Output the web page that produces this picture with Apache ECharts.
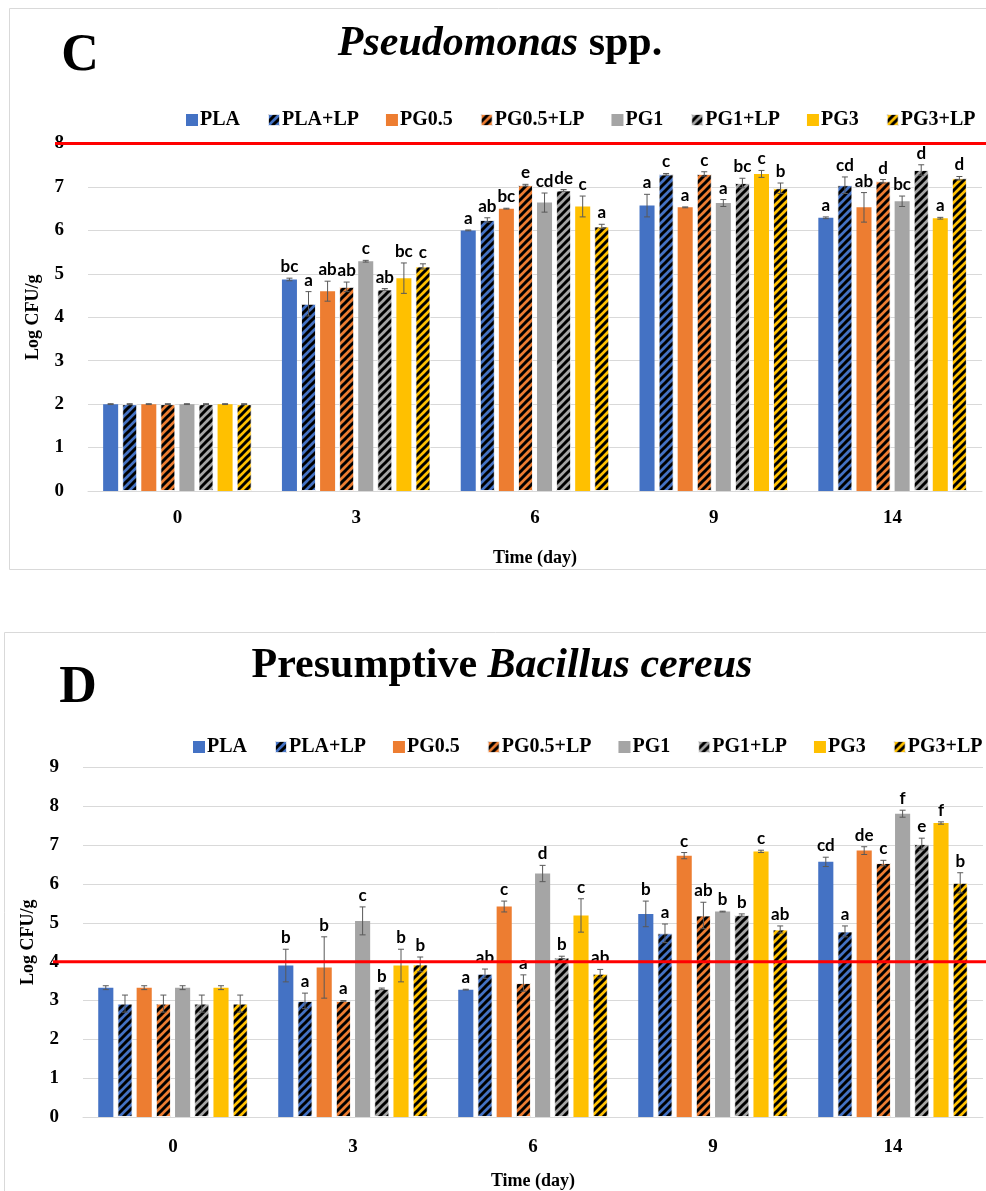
<!DOCTYPE html>
<html>
<head>
<meta charset="utf-8">
<script src="https://cdn.jsdelivr.net/npm/echarts@6/dist/echarts.min.js"></script>
<style>
  html, body { margin: 0; padding: 0; background: #ffffff; }
  #chart { width: 986px; height: 1191px; }
</style>
</head>
<body>
<div id="chart"></div>
<script>
// Storage days and packaging treatments
const days = ['0', '3', '6', '9', '14'];
const treatments = ['PLA', 'PLA+LP', 'PG0.5', 'PG0.5+LP', 'PG1', 'PG1+LP', 'PG3', 'PG3+LP'];
const yTicksC = [0, 8];
const yTicksD = [0, 9];
const limitC = 8;   // red reference line, panel C
const limitD = 4;   // red reference line, panel D

// Panel C: Pseudomonas spp. (log CFU/g), one row per treatment, one column per day
const pseudoMeans = [
  [2.00, 4.87, 6.00, 6.57, 6.29],
  [2.00, 4.31, 6.24, 7.29, 7.04],
  [2.00, 4.60, 6.50, 6.53, 6.53],
  [2.00, 4.70, 7.04, 7.30, 7.13],
  [2.00, 5.29, 6.64, 6.63, 6.67],
  [2.00, 4.64, 6.92, 7.09, 7.39],
  [2.00, 4.90, 6.55, 7.30, 6.28],
  [2.00, 5.17, 6.09, 6.97, 7.20]
];
const pseudoErrors = [
  [0.01, 0.03, 0.01, 0.26, 0.02],
  [0.01, 0.28, 0.05, 0.02, 0.19],
  [0.01, 0.23, 0.01, 0.01, 0.34],
  [0.01, 0.11, 0.02, 0.05, 0.04],
  [0.01, 0.02, 0.22, 0.08, 0.12],
  [0.01, 0.02, 0.02, 0.11, 0.12],
  [0.01, 0.35, 0.24, 0.08, 0.02],
  [0.01, 0.06, 0.05, 0.12, 0.04]
];
const pseudoLetters = [
  ['', 'bc', 'a', 'a', 'a'],
  ['', 'a', 'ab', 'c', 'cd'],
  ['', 'ab', 'bc', 'a', 'ab'],
  ['', 'ab', 'e', 'c', 'd'],
  ['', 'c', 'cd', 'a', 'bc'],
  ['', 'ab', 'de', 'bc', 'd'],
  ['', 'bc', 'c', 'c', 'a'],
  ['', 'c', 'a', 'b', 'd']
];

// Panel D: presumptive Bacillus cereus (log CFU/g)
const bacillusMeans = [
  [3.33, 3.90, 3.28, 5.23, 6.57],
  [2.92, 2.99, 3.69, 4.73, 4.78],
  [3.33, 3.85, 5.42, 6.73, 6.86],
  [2.92, 2.99, 3.45, 5.19, 6.54],
  [3.33, 5.05, 6.27, 5.29, 7.81],
  [2.92, 3.30, 4.11, 5.20, 7.03],
  [3.33, 3.90, 5.19, 6.84, 7.57],
  [2.92, 3.93, 3.69, 4.83, 6.03]
];
const bacillusErrors = [
  [0.05, 0.42, 0.01, 0.33, 0.12],
  [0.22, 0.20, 0.12, 0.24, 0.14],
  [0.05, 0.79, 0.14, 0.08, 0.10],
  [0.22, 0.01, 0.21, 0.34, 0.07],
  [0.05, 0.36, 0.21, 0.01, 0.09],
  [0.22, 0.02, 0.03, 0.03, 0.15],
  [0.05, 0.42, 0.43, 0.03, 0.03],
  [0.22, 0.19, 0.11, 0.09, 0.26]
];
const bacillusLetters = [
  ['', 'b', 'a', 'b', 'cd'],
  ['', 'a', 'ab', 'a', 'a'],
  ['', 'b', 'c', 'c', 'de'],
  ['', 'a', 'a', 'ab', 'c'],
  ['', 'c', 'd', 'b', 'f'],
  ['', 'b', 'b', 'b', 'e'],
  ['', 'b', 'c', 'c', 'f'],
  ['', 'b', 'ab', 'ab', 'b']
];

const baseColors = ['#4472C4', '#4472C4', '#ED7D31', '#ED7D31', '#A5A5A5', '#A5A5A5', '#FFC000', '#FFC000'];
const hatched = [false, true, false, true, false, true, false, true];

const SERIF = '"Liberation Serif", "Times New Roman", serif';
const LABEL_FONT = 'Lato, "Open Sans", sans-serif';
const BAR_FRAC = 0.084;   // bar width as a share of the category band
const GAP_FRAC = 0.27;    // gap between bars as a share of bar width

// Diagonal black stripes over the treatment colour (+LP variants)
function stripePattern(color) {
  const T = 8;
  const c = document.createElement('canvas');
  c.width = T; c.height = T;
  const ctx = c.getContext('2d');
  ctx.fillStyle = color;
  ctx.fillRect(0, 0, T, T);
  ctx.strokeStyle = '#000000';
  ctx.lineWidth = 3;
  for (let k = 0; k <= 2; k++) {
    const cc = k * T;
    ctx.beginPath();
    ctx.moveTo(cc - (T + 2), T + 2);
    ctx.lineTo(cc + 2, -2);
    ctx.stroke();
  }
  return { image: c, repeat: 'repeat' };
}

const fills = baseColors.map((col, i) => hatched[i] ? stripePattern(col) : col);

function barSeries(panel, means) {
  return treatments.map((name, s) => ({
    name: name,
    type: 'bar',
    xAxisIndex: panel,
    yAxisIndex: panel,
    data: means[s],
    barWidth: (BAR_FRAC * 100).toFixed(2) + '%',
    barGap: (GAP_FRAC * 100) + '%',
    itemStyle: {
      color: fills[s],
      borderColor: hatched[s] ? 'rgba(255,255,255,0.85)' : 'rgba(0,0,0,0)',
      borderWidth: hatched[s] ? 1 : 0
    },
    emphasis: { disabled: true },
    z: 2
  }));
}

// Error bars and significance letters drawn at each bar's position
function errorSeries(panel, means, errors, letters) {
  const data = [];
  treatments.forEach((_, s) => {
    days.forEach((_, ci) => data.push([ci, means[s][ci], errors[s][ci], s]));
  });
  return {
    type: 'custom',
    xAxisIndex: panel,
    yAxisIndex: panel,
    encode: { x: 0, y: 1 },
    data: data,
    z: 5,
    silent: true,
    renderItem: function (params, api) {
      const ci = api.value(0), mean = api.value(1), err = api.value(2), s = api.value(3);
      const band = api.size([1, 0])[0];
      const w = band * BAR_FRAC;
      const pitch = w * (1 + GAP_FRAC);
      const cx = api.coord([ci, 0])[0] + (s - 3.5) * pitch;
      const yTop = api.coord([ci, mean + err])[1];
      const yBot = api.coord([ci, mean - err])[1];
      const cap = 3;
      const st = { stroke: '#595959', lineWidth: 1 };
      const children = [
        { type: 'line', shape: { x1: cx, y1: yTop, x2: cx, y2: yBot }, style: st },
        { type: 'line', shape: { x1: cx - cap, y1: yTop, x2: cx + cap, y2: yTop }, style: st },
        { type: 'line', shape: { x1: cx - cap, y1: yBot, x2: cx + cap, y2: yBot }, style: st }
      ];
      const letter = letters[s][ci];
      if (letter) {
        children.push({
          type: 'text',
          style: {
            text: letter, x: cx, y: yTop - 3,
            align: 'center', verticalAlign: 'bottom',
            font: 'bold 17px ' + LABEL_FONT, fill: '#000000'
          }
        });
      }
      return { type: 'group', children: children };
    }
  };
}

function legendAt(top, left) {
  return {
    data: treatments,
    top: top, left: left,
    width: 840,
    orient: 'horizontal',
    icon: 'rect',
    itemWidth: 12, itemHeight: 12,
    itemGap: 27,
    selectedMode: false,
    textStyle: { fontFamily: SERIF, fontWeight: 'bold', fontSize: 20, color: '#000000', padding: [0, 0, 0, -3] }
  };
}

function xAxisFor(grid, labelMargin, nameGap) {
  return {
    type: 'category', gridIndex: grid, data: days,
    axisTick: { show: false },
    axisLine: { lineStyle: { color: '#d9d9d9', width: 1 } },
    axisLabel: { fontFamily: SERIF, fontWeight: 'bold', fontSize: 19, color: '#000000', margin: labelMargin },
    name: 'Time (day)', nameLocation: 'middle', nameGap: nameGap,
    nameTextStyle: { fontFamily: SERIF, fontWeight: 'bold', fontSize: 18, color: '#000000' }
  };
}

function yAxisFor(grid, ticks) {
  return {
    type: 'value', gridIndex: grid, min: ticks[0], max: ticks[1], interval: 1,
    axisLine: { show: false }, axisTick: { show: false },
    splitLine: { lineStyle: { color: '#d9d9d9', width: 1 } },
    axisLabel: { fontFamily: SERIF, fontWeight: 'bold', fontSize: 19, color: '#000000', margin: 24 },
    name: 'Log CFU/g', nameLocation: 'middle', nameGap: 46, nameRotate: 90,
    nameTextStyle: { fontFamily: SERIF, fontWeight: 'bold', fontSize: 18, color: '#000000' }
  };
}

const chart = echarts.init(document.getElementById('chart'), null, { renderer: 'canvas' });

const option = {
  backgroundColor: '#ffffff',
  animation: false,
  grid: [
    { left: 88, right: 4, top: 143.5, bottom: 700 },
    { left: 83, right: 3, top: 767.5, bottom: 73.3 }
  ],
  legend: [legendAt(105, 181), legendAt(732, 188)],
  xAxis: [xAxisFor(0, 18, 58), xAxisFor(1, 21, 55)],
  yAxis: [yAxisFor(0, yTicksC), yAxisFor(1, yTicksD)],
  series: [].concat(
    barSeries(0, pseudoMeans),
    barSeries(1, bacillusMeans),
    [errorSeries(0, pseudoMeans, pseudoErrors, pseudoLetters),
     errorSeries(1, bacillusMeans, bacillusErrors, bacillusLetters)]
  ),
  graphic: [
    { type: 'rect', id: 'frameC', silent: true, z: -10,
      shape: { x: 9.5, y: 8.5, width: 1000, height: 561 },
      style: { fill: 'none', stroke: '#d9d9d9', lineWidth: 1 } },
    { type: 'rect', id: 'frameD', silent: true, z: -10,
      shape: { x: 4.5, y: 632.5, width: 1000, height: 600 },
      style: { fill: 'none', stroke: '#d9d9d9', lineWidth: 1 } },
    { type: 'text', id: 'panelC', silent: true,
      style: { text: 'C', x: 80, y: 57, align: 'center', verticalAlign: 'middle',
               font: 'bold 52px ' + SERIF, fill: '#000000' } },
    { type: 'text', id: 'panelD', silent: true,
      style: { text: 'D', x: 78, y: 689, align: 'center', verticalAlign: 'middle',
               font: 'bold 52px ' + SERIF, fill: '#000000' } },
    { type: 'text', id: 'titleC', silent: true,
      style: {
        text: '{i|Pseudomonas}{n| spp.}', x: 500, y: 44, align: 'center', verticalAlign: 'middle',
        rich: {
          i: { font: 'italic bold 42px ' + SERIF, fill: '#000000' },
          n: { font: 'bold 42px ' + SERIF, fill: '#000000' }
        }
      } },
    { type: 'text', id: 'titleD', silent: true,
      style: {
        text: '{n|Presumptive }{i|Bacillus cereus}', x: 502, y: 666, align: 'center', verticalAlign: 'middle',
        rich: {
          i: { font: 'italic bold 42px ' + SERIF, fill: '#000000' },
          n: { font: 'bold 42px ' + SERIF, fill: '#000000' }
        }
      } }
  ]
};

chart.setOption(option);

// Red reference lines, placed from the axis values
const yC = chart.convertToPixel({ gridIndex: 0 }, [0, limitC])[1];
const yD = chart.convertToPixel({ gridIndex: 1 }, [0, limitD])[1];
chart.setOption({
  graphic: [
    { type: 'line', id: 'limitC', silent: true, z: 100,
      shape: { x1: 55, y1: yC, x2: 986, y2: yC },
      style: { stroke: '#ff0000', lineWidth: 3 } },
    { type: 'line', id: 'limitD', silent: true, z: 100,
      shape: { x1: 53, y1: yD, x2: 986, y2: yD },
      style: { stroke: '#ff0000', lineWidth: 3 } }
  ]
});
</script>
</body>
</html>
